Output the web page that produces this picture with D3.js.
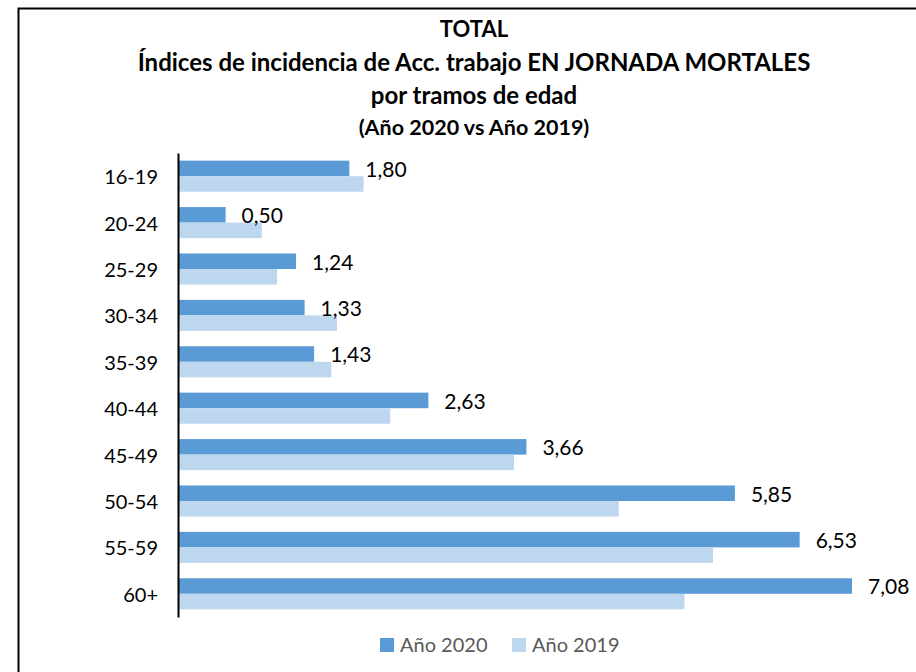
<!DOCTYPE html>
<html>
<head>
<meta charset="utf-8">
<script src="https://cdn.jsdelivr.net/npm/d3@7"></script>
<style>
  html, body { margin: 0; padding: 0; background: #fff; }
  svg { display: block; }
  text { font-family: Lato, sans-serif; }
</style>
</head>
<body>
<div id="chart"></div>
<script>
const ageGroups = ['16-19', '20-24', '25-29', '30-34', '35-39', '40-44', '45-49', '50-54', '55-59', '60+'];
const values2020 = [1.80, 0.50, 1.24, 1.33, 1.43, 2.63, 3.66, 5.85, 6.53, 7.08];
const values2019 = [1.95, 0.88, 1.04, 1.67, 1.61, 2.23, 3.53, 4.63, 5.62, 5.32];
const seriesNames = ['Año 2020', 'Año 2019'];
const titleLines = ['TOTAL', 'Índices de incidencia de Acc. trabajo EN JORNADA MORTALES', 'por tramos de edad', '(Año 2020 vs Año 2019)'];

const W = 916, H = 672;
const COL_2020 = '#5B9BD5', COL_2019 = '#BDD7EE';
const FONT = 'Lato, sans-serif';

const svg = d3.select('#chart').append('svg').attr('width', W).attr('height', H);

// outer chart border (runs off the right and bottom edges)
svg.append('rect')
    .attr('x', 18.5).attr('y', 8.5)
    .attr('width', W + 20).attr('height', H + 20)
    .attr('fill', '#fff').attr('stroke', '#000').attr('stroke-width', 2);

// title
const titleY = [37, 71, 104, 135];
const titleSize = [22, 24, 24, 21.5];
svg.selectAll('.title')
    .data(titleLines)
    .join('text')
    .attr('class', 'title')
    .attr('x', 474)
    .attr('y', (d, i) => titleY[i])
    .attr('text-anchor', 'middle')
    .style('font-family', FONT)
    .style('font-weight', 'bold')
    .style('font-size', (d, i) => titleSize[i] + 'px')
    .attr('fill', '#000')
    .text(d => d);

const x = d3.scaleLinear().domain([0, 7.08]).range([178, 852]);
const y = d3.scaleBand().domain(ageGroups).range([153, 617]).paddingInner(0.33).paddingOuter(0.165);
const ySub = d3.scaleBand().domain(seriesNames).range([0, y.bandwidth()]);

const rows = ageGroups.map((g, i) => ({ group: g, values: [
    { name: seriesNames[0], value: values2020[i] },
    { name: seriesNames[1], value: values2019[i] }
] }));
const color = d3.scaleOrdinal().domain(seriesNames).range([COL_2020, COL_2019]);

const groups = svg.selectAll('.bar-group')
    .data(rows)
    .join('g')
    .attr('class', 'bar-group')
    .attr('transform', d => `translate(0,${y(d.group)})`);

groups.selectAll('rect')
    .data(d => d.values)
    .join('rect')
    .attr('x', x(0))
    .attr('y', d => ySub(d.name))
    .attr('width', d => x(d.value) - x(0))
    .attr('height', ySub.bandwidth())
    .attr('fill', d => color(d.name));

// data labels for 2020 only
groups.append('text')
    .attr('x', d => x(d.values[0].value) + 16)
    .attr('y', ySub(seriesNames[0]) + ySub.bandwidth() / 2)
    .attr('dy', '0.4em')
    .style('font-family', FONT)
    .style('font-size', '21px')
    .attr('fill', '#000')
    .text(d => d3.format('.2f')(d.values[0].value).replace('.', ','));

// category axis
svg.append('g')
    .attr('transform', `translate(${x(0)},0)`)
    .call(d3.axisLeft(y).tickSize(0).tickPadding(20))
    .call(sel => sel.select('.domain').attr('stroke', '#000').attr('stroke-width', 2))
    .call(sel => sel.selectAll('.tick text')
        .attr('dy', '0.4em')
        .style('font-size', '20px')
        .style('font-family', FONT)
        .attr('fill', '#000'));

// legend
const legendX = [380, 512];
const legend = svg.selectAll('.legend')
    .data(seriesNames)
    .join('g')
    .attr('class', 'legend')
    .attr('transform', (d, i) => `translate(${legendX[i]},638)`);
legend.append('rect')
    .attr('width', 14).attr('height', 14)
    .attr('fill', d => color(d));
legend.append('text')
    .attr('x', 20).attr('y', 14)
    .style('font-family', FONT)
    .style('font-size', '20px')
    .attr('fill', '#595959')
    .text(d => d);
</script>
</body>
</html>
